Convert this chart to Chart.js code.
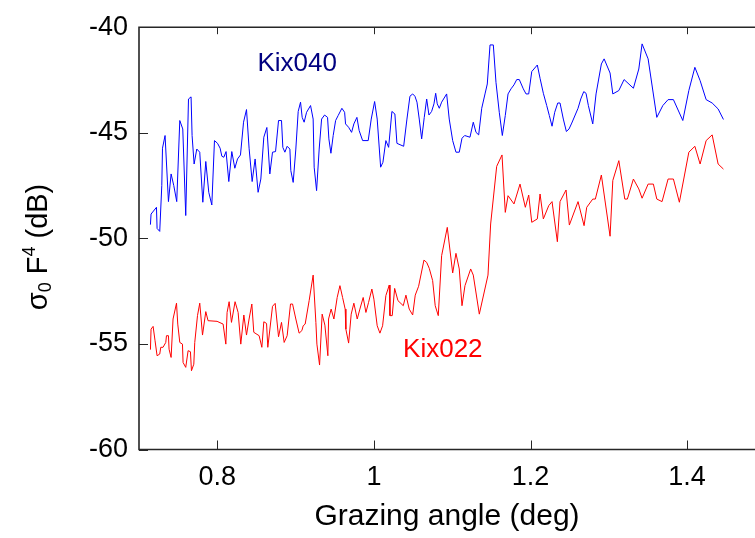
<!DOCTYPE html>
<html><head><meta charset="utf-8">
<script src="https://cdn.jsdelivr.net/npm/chart.js@4"></script>
<style>html,body{margin:0;padding:0;background:#fff;overflow:hidden}#wrap{width:755px;height:538px;position:relative}</style>
</head><body><div id="wrap"><canvas id="c" width="755" height="538"></canvas></div>
<script>
const angles040=[.7146,.7154,.7223,.7231,.7265,.7291,.7300,.7333,.7376,.7410,
.7444,.7482,.7521,.7559,.7597,.7632,.7665,.7678,.7704,.7738,
.7776,.7815,.7853,.7891,.7930,.7964,.8003,.8036,.8058,.8083,
.8112,.8147,.8185,.8224,.8258,.8296,.8335,.8373,.8406,.8445,
.8483,.8521,.8556,.8594,.8633,.8671,.8705,.8744,.8782,.8820,
.8837,.8863,.8892,.8927,.8939,.8969,.9003,.9033,.9063,.9084,
.9109,.9140,.9191,.9224,.9237,.9268,.9301,.9332,.9370,.9408,
.9425,.9451,.9480,.9511,.9544,.9591,.9626,.9638,.9677,.9715,
.9744,.9783,.9812,.9856,.9927,.9966,1.0009,1.0042,1.0086,1.0115,
1.0153,1.0188,1.0230,1.0268,1.0294,1.0380,1.0422,1.0460,1.0495,1.0524,
1.0550,1.0579,1.0610,1.0643,1.0674,1.0703,1.0737,1.0767,1.0789,1.0809,
1.0835,1.0865,1.0929,1.0962,1.1006,1.1048,1.1090,1.1125,1.1159,1.1227,
1.1269,1.1304,1.1338,1.1377,1.1419,1.1448,1.1483,1.1525,1.1559,1.1601,
1.1640,1.1678,1.1713,1.1751,1.1789,1.1824,1.1857,1.1908,1.1943,1.1977,
1.2016,1.2087,1.2122,1.2164,1.2207,1.2240,1.2275,1.2309,1.2348,1.2377,
1.2419,1.2458,1.2492,1.2527,1.2607,1.2642,1.2680,1.2709,1.2739,1.2795,
1.2837,1.2905,1.2940,1.3016,1.3051,1.3128,1.3195,1.3314,1.3383,1.3425,
1.3502,1.3613,1.3690,1.3757,1.3825,1.3945,1.4022,1.4099,1.4166,1.4243,
1.4320,1.4396,1.4464];
const sigma040=[-49.35,-48.85,-48.53,-49.53,-49.67,-47.50,-45.73,-45.13,-48.26,-46.95,
-47.50,-48.26,-44.42,-44.82,-48.92,-43.40,-43.30,-45.13,-46.48,-45.77,
-45.92,-48.29,-46.36,-47.82,-48.42,-45.37,-45.50,-45.73,-46.11,-46.16,
-45.89,-47.31,-45.89,-46.68,-46.24,-46.05,-44.50,-43.90,-45.73,-47.31,
-46.24,-47.82,-47.19,-45.21,-44.75,-46.95,-45.92,-45.89,-44.42,-44.42,
-45.69,-45.92,-45.64,-45.77,-46.79,-47.35,-45.77,-43.99,-43.55,-44.27,
-44.50,-44.03,-43.71,-44.35,-46.63,-47.74,-45.77,-44.35,-44.16,-44.27,
-45.29,-45.97,-45.13,-44.42,-44.18,-43.84,-44.03,-44.58,-44.74,-44.98,
-44.58,-44.27,-44.90,-45.37,-45.37,-44.35,-43.52,-44.35,-46.63,-46.40,
-45.37,-45.69,-43.99,-44.11,-45.50,-45.64,-44.35,-43.27,-43.16,-43.27,
-43.55,-44.35,-45.29,-44.27,-43.40,-44.16,-43.99,-43.63,-43.13,-43.63,
-43.84,-43.55,-43.16,-44.35,-45.37,-45.92,-45.92,-45.26,-45.13,-45.21,
-44.50,-44.98,-45.10,-43.84,-43.16,-42.69,-40.84,-40.84,-42.61,-44.03,
-45.13,-44.18,-43.16,-42.92,-42.73,-42.48,-42.48,-42.92,-43.16,-43.16,
-42.10,-41.79,-42.42,-43.13,-43.71,-44.18,-44.69,-44.03,-43.59,-43.59,
-44.35,-44.94,-44.82,-44.54,-43.84,-43.40,-43.05,-43.13,-43.71,-44.58,
-43.16,-41.74,-41.50,-42.17,-43.16,-43.00,-42.48,-42.89,-41.98,-40.79,
-41.50,-44.27,-43.71,-43.43,-43.43,-44.42,-43.00,-41.90,-42.53,-43.43,
-43.59,-43.87,-44.37];
const angles022=[.7146,.7154,.7180,.7205,.7231,.7265,.7278,.7307,.7342,.7351,
.7376,.7384,.7410,.7435,.7479,.7495,.7521,.7555,.7563,.7597,
.7627,.7657,.7670,.7700,.7712,.7747,.7776,.7811,.7853,.7882,
.7997,.8074,.8109,.8125,.8151,.8181,.8227,.8266,.8300,.8339,
.8373,.8406,.8441,.8466,.8534,.8569,.8594,.8629,.8645,.8705,
.8739,.8782,.8820,.8854,.8892,.8935,.8961,.9003,.9045,.9080,
.9097,.9122,.9173,.9224,.9259,.9272,.9306,.9339,.9374,.9412,
.9421,.9454,.9489,.9531,.9566,.9600,.9633,.9642,.9677,.9710,
.9744,.9787,.9821,.9863,.9898,.9932,.9974,1.0000,1.0042,1.0077,
1.0111,1.0153,1.0196,1.0205,1.0234,1.0265,1.0307,1.0375,1.0409,1.0451,
1.0495,1.0528,1.0571,1.0639,1.0674,1.0707,1.0750,1.0783,1.0822,1.0865,
1.0937,1.1006,1.1048,1.1090,1.1125,1.1163,1.1236,1.1269,1.1346,1.1457,
1.1491,1.1568,1.1636,1.1678,1.1713,1.1789,1.1866,1.1934,1.1977,1.2016,
1.2087,1.2122,1.2164,1.2233,1.2275,1.2343,1.2377,1.2454,1.2496,1.2607,
1.2684,1.2718,1.2795,1.2828,1.2905,1.3016,1.3051,1.3128,1.3204,1.3237,
1.3314,1.3383,1.3425,1.3502,1.3569,1.3613,1.3680,1.3757,1.3825,1.3901,
1.4022,1.4099,1.4166,1.4243,1.4320,1.4396,1.4464];
const sigma022=[-55.27,-54.30,-54.17,-54.85,-55.56,-55.48,-55.16,-55.16,-54.93,-54.61,
-54.61,-55.25,-55.64,-53.82,-53.07,-54.06,-54.93,-55.01,-55.88,-56.11,
-55.32,-55.37,-56.27,-55.96,-54.93,-53.66,-53.07,-54.58,-53.47,-53.90,
-53.93,-54.06,-55.01,-53.51,-53.00,-53.98,-53.00,-53.51,-55.01,-53.63,
-54.58,-53.82,-53.11,-54.45,-54.61,-55.16,-53.95,-54.03,-55.16,-53.22,
-53.08,-54.66,-53.98,-54.93,-54.61,-53.11,-53.11,-53.82,-54.49,-54.37,
-54.14,-54.06,-52.95,-51.74,-53.98,-55.01,-56.00,-53.59,-54.11,-55.56,
-53.82,-53.35,-53.82,-52.80,-52.24,-52.80,-53.35,-54.30,-54.96,-53.59,
-53.07,-53.82,-53.35,-52.80,-53.51,-53.03,-52.40,-52.88,-54.14,-54.49,
-54.14,-52.71,-52.21,-53.66,-53.66,-52.37,-52.95,-53.19,-52.69,-53.35,
-53.63,-52.69,-52.27,-51.03,-51.14,-51.42,-52.00,-53.19,-53.66,-50.82,
-49.48,-51.64,-50.71,-51.45,-53.19,-52.24,-51.45,-51.74,-53.59,-51.74,
-49.32,-46.59,-46.05,-48.77,-47.98,-48.37,-47.43,-48.53,-47.95,-49.24,
-49.08,-47.90,-49.08,-48.45,-48.26,-50.16,-48.26,-47.71,-49.37,-48.26,
-49.40,-48.53,-48.14,-48.14,-47.00,-49.90,-47.26,-46.32,-48.14,-48.14,
-47.19,-47.66,-48.10,-47.43,-47.43,-48.14,-48.26,-47.19,-47.19,-48.29,
-45.92,-45.64,-46.48,-45.37,-45.10,-46.48,-46.72];
const xTicks=[0.8,1.0,1.2,1.4];
const yTicks=[-60,-55,-50,-45,-40];
const seriesNames=['Kix040','Kix022'];

const FONT='"Liberation Sans", Arial, Helvetica, sans-serif';
function pts(xs,ys){return xs.map((x,i)=>({x:x,y:ys[i]}));}

const axesPlugin={id:'axesBox',afterDatasetsDraw(chart){
  const {ctx,chartArea:a,scales:{x,y}}=chart;
  ctx.save();
  ctx.strokeStyle='#262626';ctx.lineWidth=1.6;
  ctx.beginPath();
  ctx.moveTo(a.right+2,a.top);ctx.lineTo(a.left,a.top);ctx.lineTo(a.left,a.bottom);ctx.lineTo(a.right+2,a.bottom);
  ctx.stroke();
  ctx.lineWidth=1;ctx.beginPath();
  xTicks.forEach(v=>{const p=Math.round(x.getPixelForValue(v))+0.5;
    ctx.moveTo(p,a.bottom);ctx.lineTo(p,a.bottom-9);
    ctx.moveTo(p,a.top);ctx.lineTo(p,a.top+7);});
  yTicks.forEach(v=>{const p=Math.round(y.getPixelForValue(v))+0.5;
    ctx.moveTo(a.left,p);ctx.lineTo(a.left+9,p);});
  ctx.stroke();
  ctx.restore();
}};

const labelPlugin={id:'labels',afterDraw(chart){
  const {ctx,scales:{x,y}}=chart;
  ctx.save();
  // series annotations
  ctx.font='26px '+FONT;ctx.textAlign='center';ctx.textBaseline='middle';
  ctx.fillStyle='#000080';
  ctx.fillText(seriesNames[0],x.getPixelForValue(0.902),y.getPixelForValue(-41.73));
  ctx.fillStyle='#ff0000';
  ctx.fillText(seriesNames[1],x.getPixelForValue(1.088),y.getPixelForValue(-55.3));
  // y axis label with subscript / superscript
  ctx.translate(47,247);ctx.rotate(-Math.PI/2);
  ctx.fillStyle='#000';ctx.textAlign='left';ctx.textBaseline='alphabetic';
  const segs=[{t:'σ',s:29,dy:0},{t:'0',s:18,dy:4},{t:' F',s:29,dy:0},{t:'4',s:18,dy:-12},{t:' (dB)',s:29,dy:0}];
  let total=0;
  segs.forEach(g=>{ctx.font=g.s+'px '+FONT;g.w=ctx.measureText(g.t).width;total+=g.w;});
  let px=-total/2;
  segs.forEach(g=>{ctx.font=g.s+'px '+FONT;ctx.fillText(g.t,px,g.dy);px+=g.w;});
  ctx.restore();
}};

new Chart(document.getElementById('c'),{
  type:'line',
  data:{datasets:[
    {label:seriesNames[0],data:pts(angles040,sigma040),borderColor:'#0000ff',borderWidth:1,pointRadius:0,tension:0,fill:false},
    {label:seriesNames[1],data:pts(angles022,sigma022),borderColor:'#ff0000',borderWidth:1,pointRadius:0,tension:0,fill:false}
  ]},
  options:{
    responsive:false,animation:false,events:[],
    layout:{padding:{top:25,right:0,left:0,bottom:0}},
    plugins:{legend:{display:false},tooltip:{enabled:false}},
    scales:{
      x:{type:'linear',min:0.7,max:1.4867,
        afterBuildTicks:s=>{s.ticks=xTicks.map(v=>({value:v}));},
        ticks:{font:{family:FONT,size:27},color:'#000',padding:12,maxRotation:0,autoSkip:false,
          callback:v=>String(Math.round(v*10)/10)},
        grid:{display:false,drawTicks:false},border:{display:false},
        title:{display:true,text:'Grazing angle (deg)',font:{family:FONT,size:30},color:'#000',padding:{top:0,bottom:3}},
        afterFit:s=>{s.height=88.5;}},
      y:{type:'linear',min:-60,max:-40,
        afterBuildTicks:s=>{s.ticks=yTicks.map(v=>({value:v}));},
        ticks:{font:{family:FONT,size:27},color:'#000',padding:11,autoSkip:false,callback:v=>String(v)},
        grid:{display:false,drawTicks:false},border:{display:false},
        afterFit:s=>{s.width=139;}}
    }
  },
  plugins:[axesPlugin,labelPlugin]
});
</script></body></html>
